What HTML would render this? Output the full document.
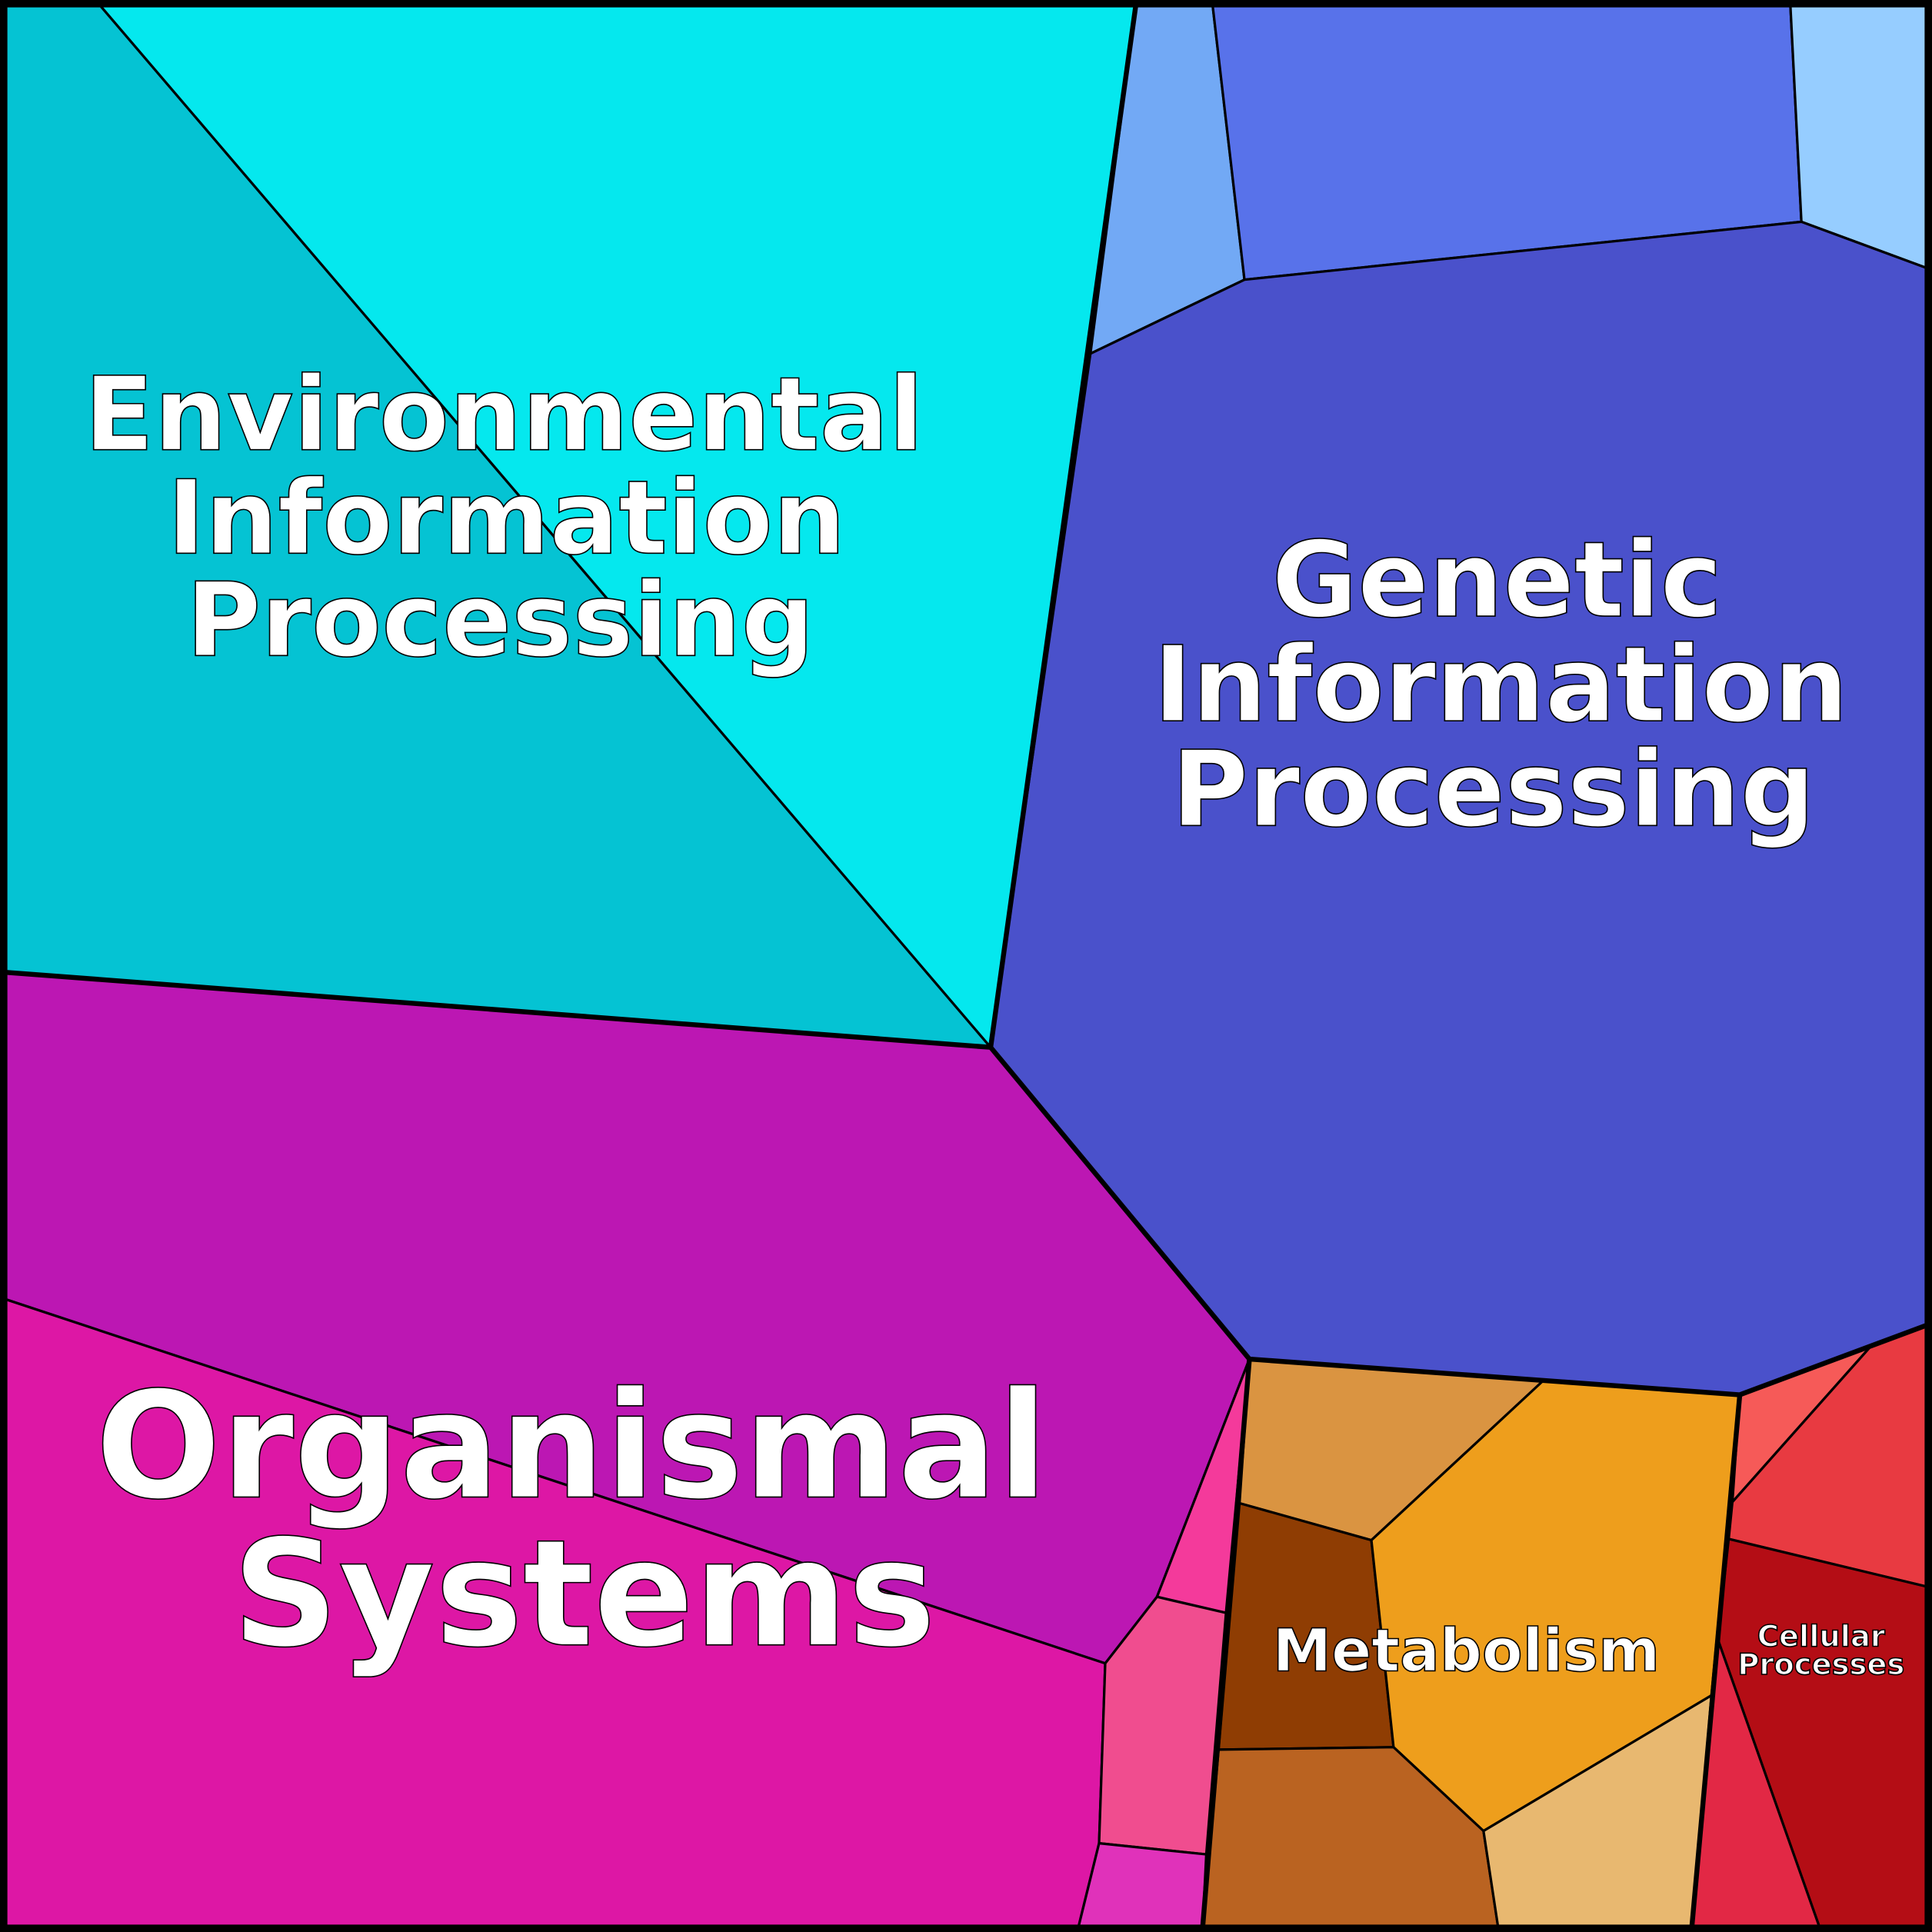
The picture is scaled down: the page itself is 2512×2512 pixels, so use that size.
<!DOCTYPE html>
<html><head><meta charset="utf-8"><style>
html,body{margin:0;padding:0;background:#fff}
svg{display:block}
text{font-family:"DejaVu Sans","Liberation Sans",sans-serif;font-weight:bold;fill:#fff;stroke:#000;stroke-width:1;text-anchor:middle}
</style></head><body>
<svg width="2512" height="2512" viewBox="0 0 1568 1568" xmlns="http://www.w3.org/2000/svg">
<g stroke="#000" stroke-width="2" stroke-linejoin="round">
<polygon fill="#05C3D3" points="3,3 80,3 804,850 3,789"/>
<polygon fill="#05E8EE" points="80,3 922,3 885,287 804,850"/>
<polygon fill="#72A9F5" points="922,3 984,3 1010,227 885,287"/>
<polygon fill="#5872EA" points="984,3 1453,3 1462,180 1010,227"/>
<polygon fill="#96CDFF" points="1453,3 1565,3 1565,218 1462,180"/>
<polygon fill="#4A51CB" points="885,287 1010,227 1462,180 1565,218 1565,1075 1412,1132 1014,1103 804,850"/>
<polygon fill="#BC17B3" points="3,789 804,850 1014,1103 939,1296 897,1350 3,1054"/>
<polygon fill="#DD17A5" points="3,1054 897,1350 892,1496 875,1565 3,1565"/>
<polygon fill="#F43A9B" points="1014,1103 995,1309 939,1296"/>
<polygon fill="#F04D8F" points="939,1296 995,1309 979,1505 892,1496 897,1350"/>
<polygon fill="#E032BA" points="892,1496 979,1505 976,1565 875,1565"/>
<polygon fill="#DA9441" points="1014,1103 1252,1121 1113,1250 1006,1220"/>
<polygon fill="#8F3D03" points="1006,1220 1113,1250 1131,1418 989,1420"/>
<polygon fill="#EE9E1C" points="1252,1121 1412,1132 1389,1376 1204,1486 1131,1418 1113,1250"/>
<polygon fill="#BA6321" points="989,1420 1131,1418 1204,1486 1216,1565 976,1565"/>
<polygon fill="#E8B870" points="1204,1486 1389,1376 1373,1565 1216,1565"/>
<polygon fill="#F65A58" points="1412,1132 1518,1093 1406,1219"/>
<polygon fill="#E83A41" points="1518,1093 1565,1075 1565,1288 1403,1249 1406,1219"/>
<polygon fill="#B40D15" points="1403,1249 1565,1288 1565,1565 1477,1565 1394,1330"/>
<polygon fill="#E22845" points="1394,1330 1477,1565 1373,1565"/>
</g>
<g stroke="#000" stroke-width="4" fill="none" stroke-linejoin="round">
<polyline points="922,3 804,850 3,789"/>
<polyline points="804,850 1014,1103 1412,1132 1565,1075"/>
<polyline points="1014,1103 976,1565"/>
<polyline points="1412,1132 1373,1565"/>
</g>
<rect x="3" y="3" width="1562" height="1562" fill="none" stroke="#000" stroke-width="6"/>
<text font-size="83" x="409" y="365">Environmental</text>
<text font-size="83" x="411" y="449">Information</text>
<text font-size="83" x="406" y="532">Processing</text>
<text font-size="85" x="1215" y="500">Genetic</text>
<text font-size="85" x="1218" y="585">Information</text>
<text font-size="85" x="1212" y="670">Processing</text>
<text font-size="120" x="464" y="1215">Organismal</text>
<text font-size="120" x="474" y="1335">Systems</text>
<text font-size="48" x="1190" y="1356">Metabolism</text>
<text font-size="24" x="1478" y="1336" stroke-width="0.6">Cellular</text>
<text font-size="24" x="1478" y="1359" stroke-width="0.6">Processes</text>
</svg>
</body></html>
